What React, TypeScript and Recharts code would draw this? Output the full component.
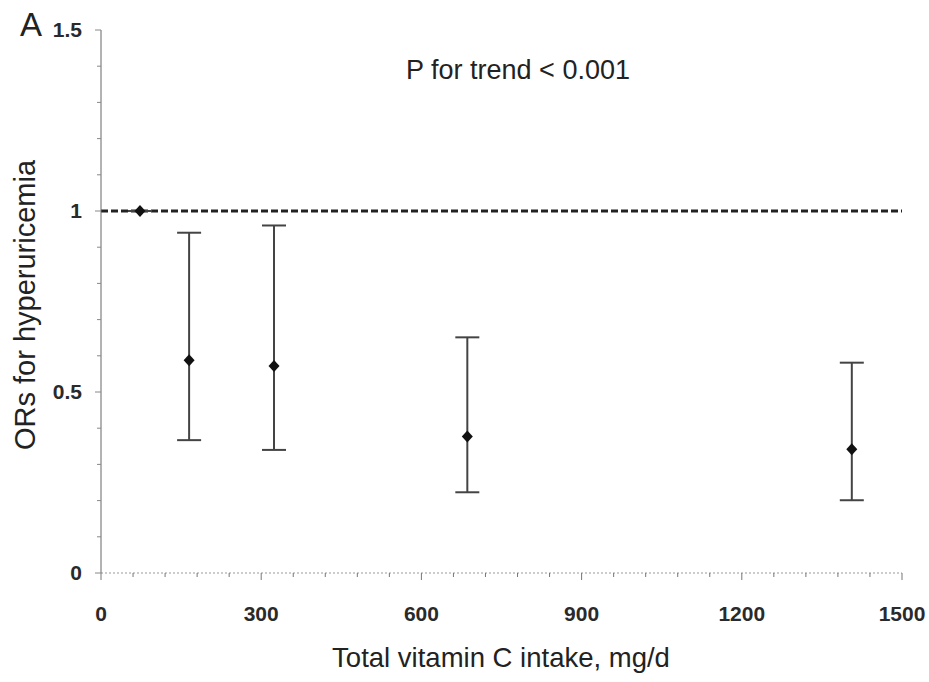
import React from 'react';
import { ScatterChart, Scatter, XAxis, YAxis, ErrorBar, ReferenceLine, Label } from 'recharts';

// vitamin C intake groups (mg/d) and odds ratios with 95% CI
const intake = [73, 165, 324, 686, 1406];
const oddsRatio = [1.0, 0.588, 0.572, 0.377, 0.342];
const ciLow = [1.0, 0.367, 0.34, 0.223, 0.201];
const ciHigh = [1.0, 0.94, 0.96, 0.651, 0.581];

const xTicks = [0, 60, 120, 180, 240, 300, 360, 420, 480, 540, 600, 660, 720, 780, 840, 900, 960, 1020, 1080, 1140, 1200, 1260, 1320, 1380, 1440, 1500];
const xLabels = [0, 300, 600, 900, 1200, 1500];
const yTicks = [0, 0.1, 0.2, 0.3, 0.4, 0.5, 0.6, 0.7, 0.8, 0.9, 1, 1.1, 1.2, 1.3, 1.4, 1.5];
const yLabels = [0, 0.5, 1, 1.5];

const FONT = '"Liberation Sans", Arial, sans-serif';

const data = intake.map((x, i) => ({
  x,
  y: oddsRatio[i],
  err: [oddsRatio[i] - ciLow[i], ciHigh[i] - oddsRatio[i]],
}));

const isMajor = (list: number[], v: number) => list.some((l) => Math.abs(l - v) < 1e-6);

const XTick = ({ x, y, payload }: any) => {
  const major = isMajor(xLabels, payload.value);
  return (
    <g>
      <line x1={x} x2={x} y1={y} y2={y + (major ? 7 : 4)} stroke="#777" strokeWidth={1} />
      {major && (
        <text x={x} y={y + 48} textAnchor="middle" fontFamily={FONT} fontSize={21} fontWeight="bold" fill="#2a2a2a">
          {payload.value}
        </text>
      )}
    </g>
  );
};

const YTick = ({ x, y, payload }: any) => {
  const major = isMajor(yLabels, payload.value);
  return (
    <g>
      <line x1={x} x2={x - (major ? 6 : 4)} y1={y} y2={y} stroke="#888" strokeWidth={1} />
      {major && (
        <text x={x - 19} y={y + 7} textAnchor="end" fontFamily={FONT} fontSize={21} fontWeight="bold" fill="#2a2a2a">
          {payload.value}
        </text>
      )}
    </g>
  );
};

const Diamond = ({ cx, cy }: any) => (
  <path d={`M${cx},${cy - 6} L${cx + 5.5},${cy} L${cx},${cy + 6} L${cx - 5.5},${cy} Z`} fill="#111" />
);

export default function App() {
  return (
    <div style={{ position: 'absolute', left: 0, top: 0, background: '#fff' }}>
      <ScatterChart width={929} height={682} margin={{ top: 30, right: 27, bottom: 0, left: 0 }}>
        <XAxis
          type="number"
          dataKey="x"
          domain={[0, 1500]}
          ticks={xTicks}
          interval={0}
          tickSize={0}
          tickMargin={0}
          tick={<XTick />}
          height={109}
          axisLine={{ stroke: '#999', strokeDasharray: '2 2' }}
          allowDataOverflow
        >
          <Label
            content={() => (
              <text x={501} y={667} textAnchor="middle" fontFamily={FONT} fontSize={27.5} fill="#222">
                Total vitamin C intake, mg/d
              </text>
            )}
          />
        </XAxis>
        <YAxis
          type="number"
          dataKey="y"
          domain={[0, 1.5]}
          ticks={yTicks}
          interval={0}
          tickSize={0}
          tickMargin={0}
          tick={<YTick />}
          width={101}
          axisLine={{ stroke: '#666' }}
          allowDataOverflow
        >
          <Label
            content={() => (
              <g>
                <text
                  x={25}
                  y={305}
                  transform="rotate(-90 25 305)"
                  textAnchor="middle"
                  dominantBaseline="central"
                  fontFamily={FONT}
                  fontSize={29}
                  fill="#222"
                >
                  ORs for hyperuricemia
                </text>
                <text x={20} y={36} fontFamily={FONT} fontSize={33} fill="#222">
                  A
                </text>
                <text x={518} y={79} textAnchor="middle" fontFamily={FONT} fontSize={27} fill="#222">
                  P for trend &lt; 0.001
                </text>
              </g>
            )}
          />
        </YAxis>
        <ReferenceLine y={1} stroke="#222" strokeWidth={3} strokeDasharray="7 3" />
        <Scatter data={data} shape={<Diamond />} isAnimationActive={false}>
          <ErrorBar dataKey="err" direction="y" width={12} stroke="#444" strokeWidth={2} isAnimationActive={false} />
        </Scatter>
      </ScatterChart>
    </div>
  );
}
